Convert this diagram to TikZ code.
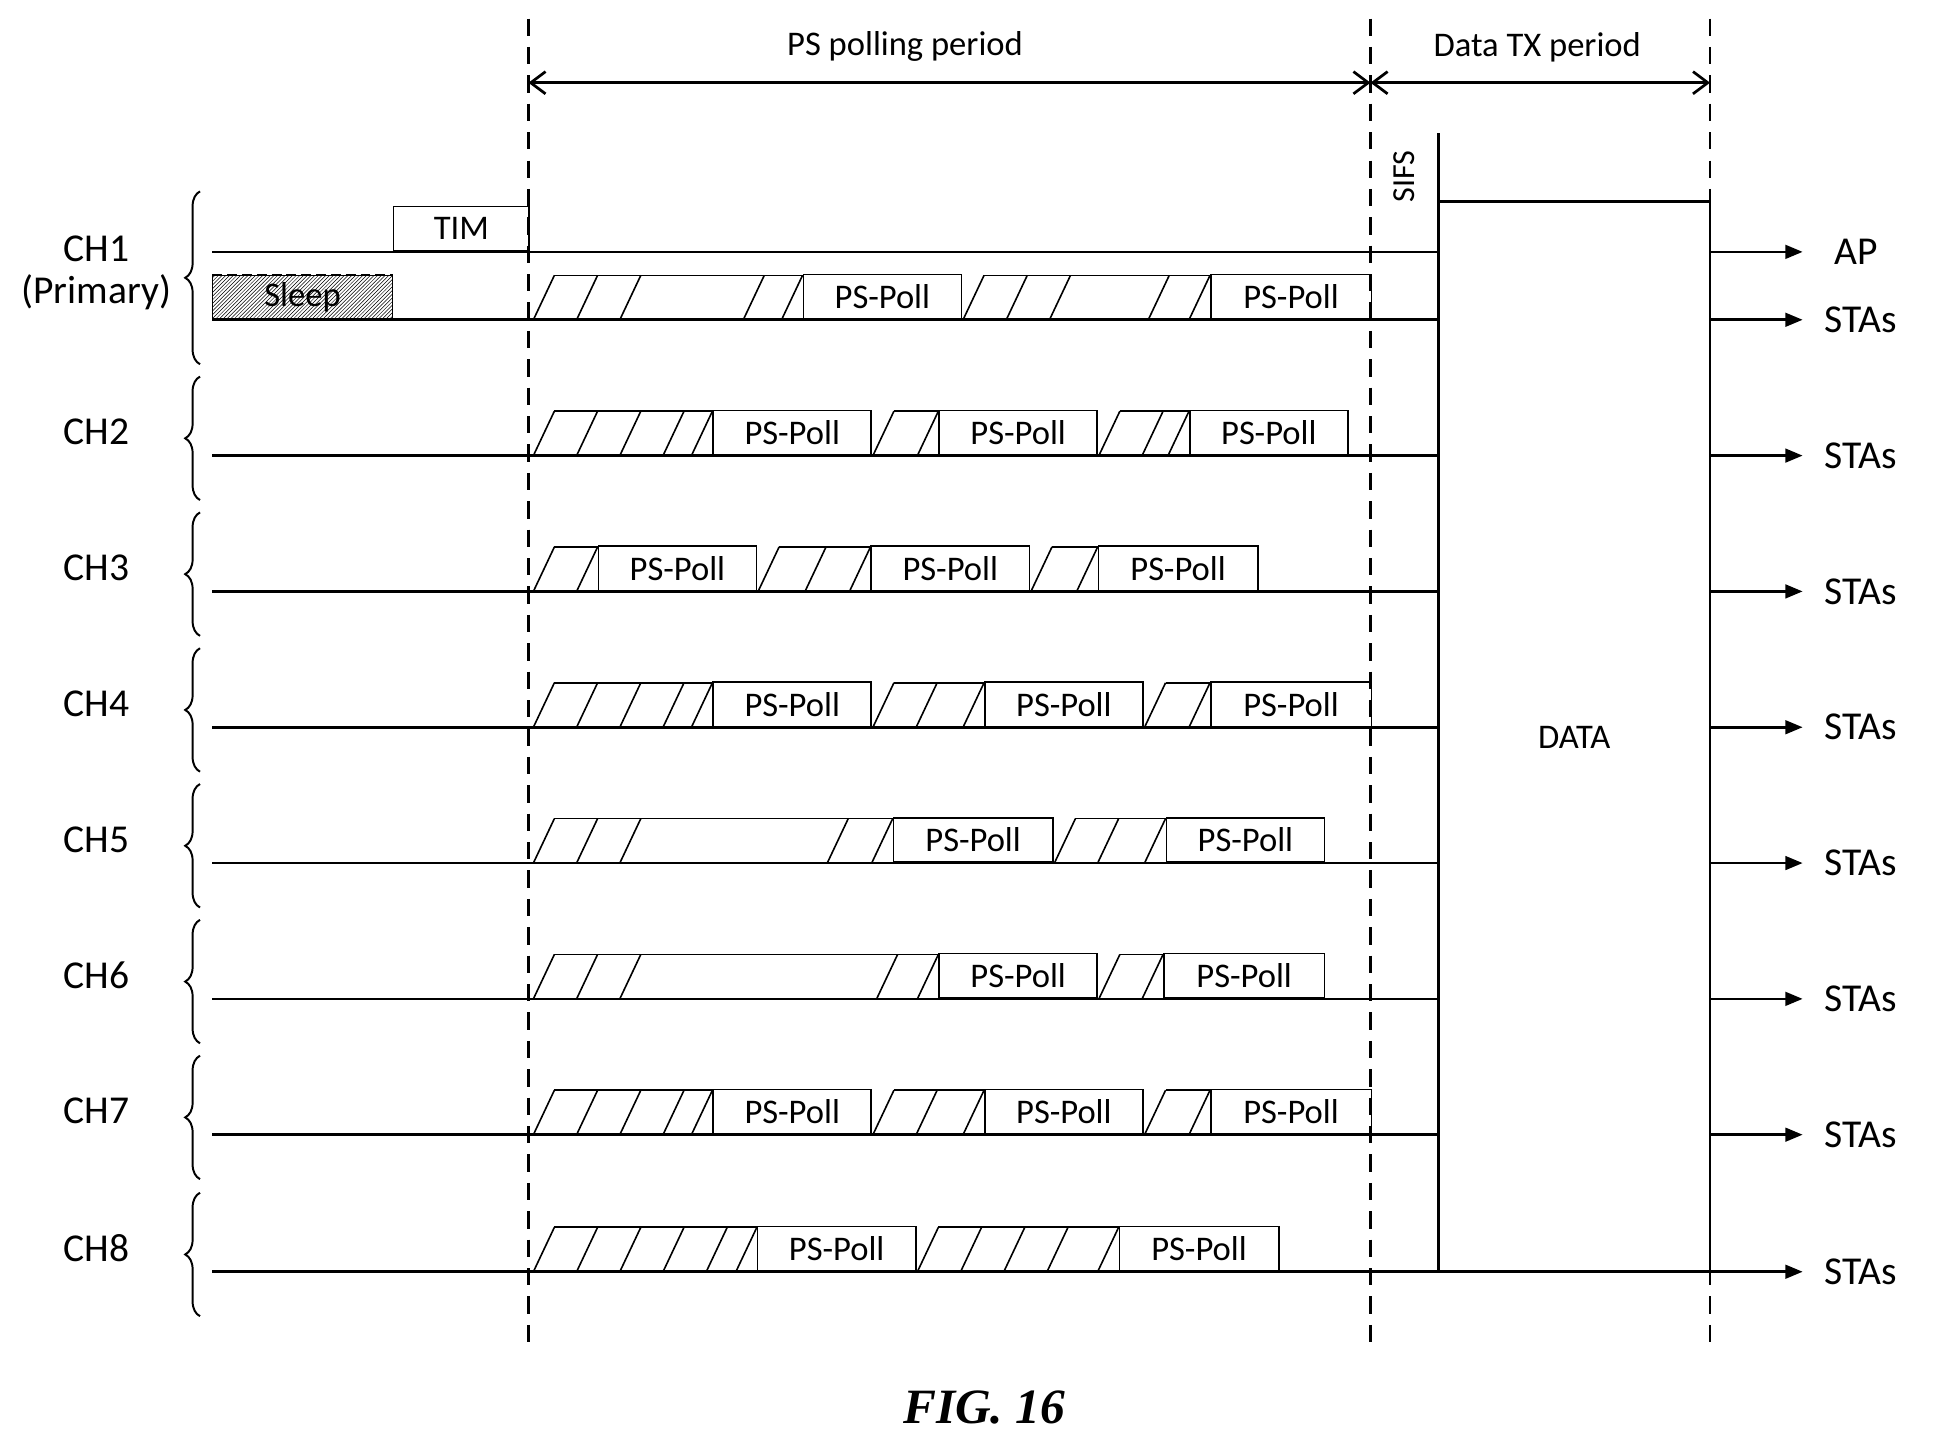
\documentclass[tikz,border=0pt]{standalone}
\usepackage{fontspec}
\setmainfont{Carlito}
\newfontfamily\figfont{Liberation Serif}
\usetikzlibrary{patterns,decorations.pathreplacing,arrows.meta}
\tikzset{
  ln/.style={line width=2.2pt},
  thin/.style={line width=1.3pt},
  dsh/.style={line width=2pt,dash pattern=on 14pt off 9pt},
  pp/.style={draw,line width=1.3pt,minimum height=36pt,inner sep=0pt,anchor=south west,font=\fontsize{28}{28}\selectfont},
  lab/.style={font=\fontsize{32}{32}\selectfont},
  mid/.style={font=\fontsize{28}{28}\selectfont},
  brc/.style={decorate,decoration={brace,amplitude=12pt},line width=1.6pt},
  arr/.style={ln,-{Triangle[length=14pt,width=11pt]}},
}
\newcommand{\bkseg}[4]{% y, slashes, boxstart, boxend
  \foreach \s [count=\i] in {#2}{
    \draw[thin] (\s,#1) -- ({\s+17},{#1-36});
    \ifnum\i=1 \draw[thin] ({\s+17},{#1-36}) -- (#3,{#1-36}); \fi
  }
  \node[pp,minimum width={#4-#3}] at (#3,#1) {PS-Poll};
}
\begin{document}
\begin{tikzpicture}[x=1pt,y=-1pt]
\useasboundingbox (0,0) rectangle (1568,1174);
\foreach \x/\n in {428/va,1110/vb,1385/vc}{
  \coordinate (\n t) at (\x,15); \coordinate (\n b) at (\x,1088);
  \draw[dsh] (\n t) -- (\n b);}
\coordinate (pa) at (428,67); \coordinate (pb) at (1110,67); \coordinate (pc) at (1385,67);
\draw[ln,{Straight Barb[length=12pt,width=18pt]}-{Straight Barb[length=12pt,width=18pt]}] (pa) -- (pb);
\draw[ln,{Straight Barb[length=12pt,width=18pt]}-{Straight Barb[length=12pt,width=18pt]}] (pb) -- (pc);
\node[mid] (t1) at (733,38) {PS polling period};
\node[mid] (t2) at (1245,38) {Data TX period};
\node[font=\fontsize{26}{26}\selectfont,rotate=90] (sifs) at (1137,143) {SIFS};
\draw[ln] (1165,108) -- (1165,1030);
\draw[ln] (1165,163) -- (1385,163) -- (1385,1030) -- (1165,1030);
\node[mid] (data) at (1275,597) {DATA};
\draw[ln] (172,204) -- (1165,204);
\draw[arr] (1385,204) -- (1460,204);
\node[lab,anchor=west] (ap) at (1482,204) {AP};
\node[pp,minimum width=110pt] (tim) at (318,204) {TIM};
\draw[thin,pattern=north east lines] (172,259) rectangle (318,223);
\draw[line width=1.5pt,dash pattern=on 8pt off 4pt] (172,223) -- (318,223);
\node[mid] (sleep) at (245,241) {Sleep};
\node[lab,align=center,inner sep=0pt] (c1) at (78,221) {CH1\\[2pt](Primary)};
\draw[brc] (162,295) -- (162,155);
\foreach \y/\n in {259/1,369/2,479/3,589/4,699/5,809/6,919/7,1030/8}{
  \draw[ln] (172,\y) -- (1165,\y);
  \draw[arr] (1385,\y) -- (1460,\y);
  \node[lab,anchor=west] (sta\n) at (1474,\y) {STAs};
}
\foreach \y/\n in {369/2,479/3,589/4,699/5,809/6,919/7,1030/8}{
  \node[lab] (c\n) at (78,{\y-19}) {CH\n};
  \draw[brc] (162,{\y+36}) -- (162,{\y-64});
}
\bkseg{259}{432,467,502,602,633}{650}{778}
\bkseg{259}{780,815,850,930,963}{980}{1110}
\bkseg{369}{432,467,502,537,560}{577}{705}
\bkseg{369}{707,743}{760}{888}
\bkseg{369}{890,925,946}{963}{1091}
\bkseg{479}{432,467}{484}{612}
\bkseg{479}{614,652,688}{705}{833}
\bkseg{479}{835,872}{889}{1018}
\bkseg{589}{432,467,502,537,560}{577}{705}
\bkseg{589}{707,742,780}{797}{925}
\bkseg{589}{927,963}{980}{1110}
\bkseg{699}{432,467,502,670,706}{723}{852}
\bkseg{699}{854,889,927}{944}{1072}
\bkseg{809}{432,467,502,710,743}{760}{888}
\bkseg{809}{890,925}{942}{1072}
\bkseg{919}{432,467,502,537,560}{577}{705}
\bkseg{919}{707,742,780}{797}{925}
\bkseg{919}{927,963}{980}{1110}
\bkseg{1030}{432,467,502,537,572,596}{613}{741}
\bkseg{1030}{743,778,813,848,889}{906}{1035}
\node[font=\figfont\bfseries\itshape\fontsize{40}{40}\selectfont] (fig) at (797,1140) {FIG. 16};
\end{tikzpicture}
\end{document}
